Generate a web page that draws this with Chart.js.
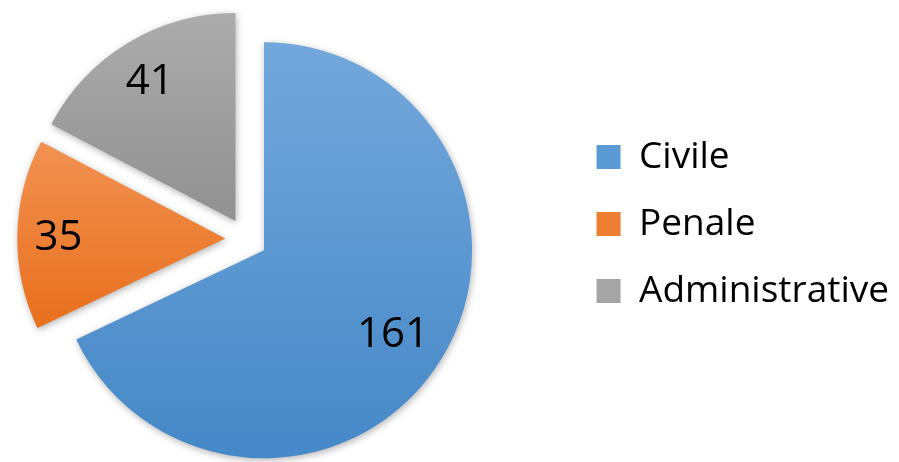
<!DOCTYPE html>
<html>
<head>
<meta charset="utf-8">
<script src="https://cdn.jsdelivr.net/npm/chart.js@4"></script>
<style>
  html, body { margin: 0; background: #fff; }
  #wrap { width: 899px; height: 462px; }
</style>
</head>
<body>
<div id="wrap"><canvas id="pieChart" width="899" height="462"></canvas></div>
<script>
  const categories = ["Civile", "Penale", "Administrative"];
  const counts = [161, 35, 41];

  const flatColors = ["#5B9BD5", "#ED7D31", "#A5A5A5"];
  const topColors = ["#72A7DB", "#F29252", "#AEAEAE"];
  const bottomColors = ["#4487C7", "#E86F1C", "#939393"];

  const RADIUS = 208;      // pie radius in px
  const EXPLODE = 21;      // how far every slice is pulled out
  const LABEL_PAD = 17;
  const LEGEND_SHIFT = 15; // legend sits a bit higher than the pie centre

  Chart.defaults.font.family = '"Open Sans", sans-serif';
  Chart.defaults.color = "#000";

  function sliceAngles(i) {
    const total = counts.reduce((a, b) => a + b, 0);
    let before = 0;
    for (let k = 0; k < i; k++) before += counts[k];
    const start = before / total * 2 * Math.PI - Math.PI / 2;
    return [start, start + counts[i] / total * 2 * Math.PI];
  }

  // vertical gradient over the bounding box of each (exploded) slice
  function sliceGradient(context) {
    const chart = context.chart;
    const area = chart.chartArea;
    const i = context.dataIndex;
    if (!area) return flatColors[i];
    const [a0, a1] = sliceAngles(i);
    const mid = (a0 + a1) / 2;
    const cy = (area.top + area.bottom) / 2 + Math.sin(mid) * EXPLODE;
    const ys = [cy, cy + RADIUS * Math.sin(a0), cy + RADIUS * Math.sin(a1)];
    [Math.PI / 2, -Math.PI / 2, 3 * Math.PI / 2].forEach(a => {
      if (a > a0 && a < a1) ys.push(cy + RADIUS * Math.sin(a));
    });
    const g = chart.ctx.createLinearGradient(0, Math.min(...ys), 0, Math.max(...ys));
    g.addColorStop(0, topColors[i]);
    g.addColorStop(1, bottomColors[i]);
    return g;
  }

  const explodedPie = {
    id: "explodedPie",
    afterLayout(chart) {
      // pie keeps the left part, legend is pushed to the right edge
      const lg = chart.legend;
      const dx = chart.width - lg.right;
      lg.left += dx;
      lg.right += dx;
      lg.top -= LEGEND_SHIFT;
      lg.bottom -= LEGEND_SHIFT;
    },
    beforeDatasetDraw(chart, args) {
      const ctx = chart.ctx;
      ctx.save();
      ctx.shadowColor = "rgba(0,0,0,0.3)";
      ctx.shadowBlur = 7;
      ctx.shadowOffsetX = 1;
      ctx.shadowOffsetY = 2;
      args.meta.data.forEach(arc => {
        const mid = (arc.startAngle + arc.endAngle) / 2;
        ctx.save();
        ctx.translate(Math.cos(mid) * EXPLODE, Math.sin(mid) * EXPLODE);
        arc.draw(ctx);
        ctx.restore();
      });
      ctx.restore();
      return false;
    },
    afterDatasetsDraw(chart) {
      const ctx = chart.ctx;
      const meta = chart.getDatasetMeta(0);
      const size = 42;
      const digitH = size * 0.714;
      ctx.save();
      ctx.font = size + 'px "Open Sans", sans-serif';
      ctx.fillStyle = "#000";
      ctx.textAlign = "center";
      ctx.textBaseline = "alphabetic";
      meta.data.forEach((arc, i) => {
        const mid = (arc.startAngle + arc.endAngle) / 2;
        const dx = Math.cos(mid), dy = Math.sin(mid);
        const text = String(counts[i]);
        const w = ctx.measureText(text).width;
        const extent = Math.abs(dx) * w / 2 + Math.abs(dy) * digitH / 2;
        const dist = EXPLODE + arc.outerRadius - extent - LABEL_PAD;
        const x = arc.x + dx * dist;
        const y = arc.y + dy * dist;
        ctx.fillText(text, x, y + digitH / 2);
      });
      ctx.restore();
    }
  };

  const ctx = document.getElementById("pieChart");

  new Chart(ctx, {
    type: "pie",
    data: {
      labels: categories,
      datasets: [{
        data: counts,
        backgroundColor: sliceGradient,
        borderWidth: 0
      }]
    },
    options: {
      responsive: false,
      animation: false,
      events: [],
      radius: RADIUS,
      layout: {
        padding: { left: 0, right: 74, top: 16, bottom: 0 }
      },
      plugins: {
        tooltip: { enabled: false },
        legend: {
          position: "right",
          align: "center",
          labels: {
            boxWidth: 24,
            boxHeight: 24,
            padding: 30,
            color: "#000",
            font: { size: 37 },
            generateLabels(chart) {
              const items = Chart.overrides.pie.plugins.legend.labels.generateLabels(chart);
              items.forEach((it, i) => {
                it.fillStyle = flatColors[i];
                it.lineWidth = 0;
              });
              return items;
            }
          }
        }
      }
    },
    plugins: [explodedPie]
  });
</script>
</body>
</html>
